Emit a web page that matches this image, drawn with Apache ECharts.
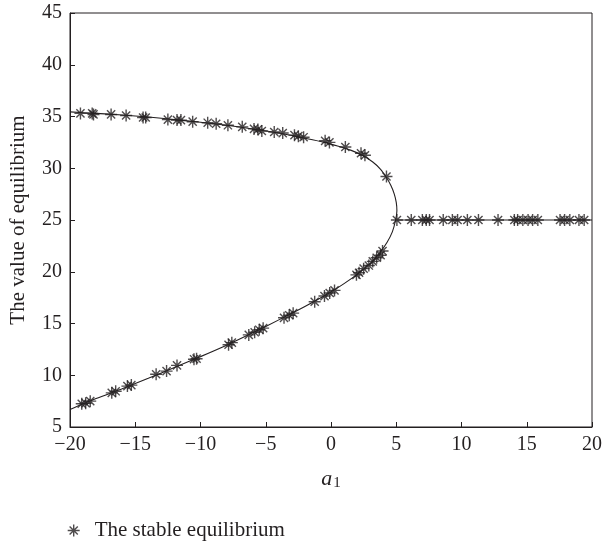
<!DOCTYPE html>
<html>
<head>
<meta charset="utf-8">
<script src="https://cdn.jsdelivr.net/npm/echarts@6/dist/echarts.min.js"></script>
<style>
  html, body { margin: 0; padding: 0; background: #fff; }
  #chart { width: 605px; height: 542px; }
</style>
</head>
<body>
<div id="chart"></div>
<script>
// equilibrium curve, traced from lower-left through the fold near a1 = 5 to upper-left
const curveA = [-20, -18, -16, -14, -12, -10, -8, -6, -4, -2, 0, 1, 2, 3, 3.8, 4.3, 4.7, 4.95, 5.05, 5.0, 4.85, 4.6, 4.25, 3.8, 3.2, 2.4, 1.5, 0.5, -0.5, -2, -4, -6, -8, -10, -12, -14, -16, -18, -20]
const curveV = [6.7, 7.75, 8.7, 9.7, 10.75, 11.8, 12.9, 14.1, 15.35, 16.65, 18.05, 18.85, 19.75, 20.8, 21.95, 22.85, 23.85, 25.0, 25.9, 26.7, 27.5, 28.3, 29.1, 29.9, 30.6, 31.25, 31.75, 32.15, 32.5, 32.9, 33.4, 33.8, 34.15, 34.45, 34.7, 34.95, 35.15, 35.3, 35.45]

// the flat branch after the fold
const flatA = [5, 20]
const flatV = [25, 25]

// stable equilibrium samples
const upperA = [-19.2, -18.3, -18.2, -16.85, -15.7, -14.4, -14.2, -12.5, -11.8, -11.5, -10.6, -9.45, -8.8, -7.9, -6.8, -5.9, -5.6, -5.3, -4.35, -3.7, -2.8, -2.5, -2.1, -0.45, -0.12, 1.1, 2.3, 2.6, 4.25]
const upperV = [35.3, 35.3, 35.2, 35.2, 35.1, 34.9, 34.9, 34.7, 34.65, 34.65, 34.5, 34.4, 34.3, 34.15, 34.0, 33.8, 33.75, 33.6, 33.5, 33.4, 33.2, 33.1, 33.0, 32.65, 32.5, 32.05, 31.45, 31.25, 29.2]

const lowerA = [-19.1, -18.8, -18.45, -16.8, -16.5, -15.6, -15.3, -13.4, -12.6, -11.8, -10.5, -10.3, -7.85, -7.6, -6.3, -5.85, -5.5, -5.2, -3.6, -3.2, -2.9, -1.25, -0.5, -0.1, 0.27, 1.95, 2.15, 2.5, 2.9, 3.2, 3.5, 3.8, 3.95]
const lowerV = [7.25, 7.3, 7.5, 8.3, 8.45, 8.95, 9.05, 10.1, 10.4, 10.95, 11.55, 11.6, 12.95, 13.15, 13.9, 14.15, 14.4, 14.55, 15.55, 15.8, 16.0, 17.1, 17.65, 17.95, 18.2, 19.7, 19.9, 20.3, 20.6, 21.0, 21.35, 21.6, 22.0]

const flatStarsA = [5.05, 6.15, 7.0, 7.3, 7.55, 8.6, 9.3, 9.7, 10.45, 11.3, 12.8, 14.05, 14.3, 14.7, 15.1, 15.45, 15.85, 17.55, 17.9, 18.3, 19.0, 19.4]

const xTicks = [-20, -15, -10, -5, 0, 5, 10, 15, 20]
const yTicks = [5, 10, 15, 20, 25, 30, 35, 40, 45]

const font = 'Liberation Serif'
const ink = '#231f20'
const asterisk = 'path://M0,5L10,5M5,0L5,10M1.6,1.6L8.4,8.4M1.6,8.4L8.4,1.6'

const zip = (a, v) => a.map((x, i) => [x, v[i]])

const starData = [
  ...zip(upperA, upperV),
  ...zip(lowerA, lowerV),
  ...flatStarsA.map(x => [x, 25])
]

const chart = echarts.init(document.getElementById('chart'))

const option = {
  animation: false,
  backgroundColor: '#fff',
  grid: {
    left: 67,
    right: 8,
    top: 13,
    bottom: 115,
    show: true,
    borderColor: ink,
    borderWidth: 1
  },
  legend: {
    data: ['The stable equilibrium'],
    left: 62,
    top: 515,
    icon: asterisk,
    itemWidth: 12,
    itemHeight: 12,
    itemGap: 10,
    textStyle: { fontFamily: font, fontSize: 21, color: ink, padding: [0, 0, 0, 10] },
    itemStyle: { color: ink, borderColor: ink, borderWidth: 1.4 }
  },
  xAxis: {
    type: 'value',
    min: xTicks[0],
    max: xTicks[xTicks.length - 1],
    interval: 5,
    name: '{i|a}{s|1}',
    nameLocation: 'middle',
    nameGap: 40,
    nameTextStyle: {
      rich: {
        i: { fontFamily: font, fontStyle: 'italic', fontSize: 22, color: ink },
        s: { fontFamily: font, fontSize: 15, color: ink, verticalAlign: 'bottom', padding: [9, 0, 0, 1] }
      }
    },
    axisLine: { onZero: false, lineStyle: { color: ink, width: 1 } },
    axisTick: { inside: true, length: 5, lineStyle: { color: ink } },
    axisLabel: {
      fontFamily: font,
      fontSize: 20,
      color: ink,
      margin: 8,
      formatter: v => String(v).replace('-', '\u2212')
    },
    splitLine: { show: false }
  },
  yAxis: {
    type: 'value',
    min: yTicks[0],
    max: yTicks[yTicks.length - 1],
    interval: 5,
    name: 'The value of equilibrium',
    nameLocation: 'middle',
    nameGap: 41,
    nameTextStyle: { fontFamily: font, fontSize: 21, color: ink },
    axisLine: { onZero: false, lineStyle: { color: ink, width: 1 } },
    axisTick: { inside: true, length: 5, lineStyle: { color: ink } },
    axisLabel: { fontFamily: font, fontSize: 20, color: ink, margin: 8 },
    splitLine: { show: false }
  },
  series: [
    {
      name: 'curve',
      type: 'line',
      data: zip(curveA, curveV),
      showSymbol: false,
      smooth: 0.25,
      lineStyle: { color: ink, width: 1.1 },
      silent: true
    },
    {
      name: 'flat',
      type: 'line',
      data: zip(flatA, flatV),
      showSymbol: false,
      lineStyle: { color: ink, width: 1.1 },
      silent: true
    },
    {
      name: 'The stable equilibrium',
      type: 'scatter',
      data: starData,
      symbol: asterisk,
      symbolSize: 12,
      itemStyle: { color: ink, borderColor: ink, borderWidth: 1.4 }
    }
  ]
}

chart.setOption(option)
</script>
</body>
</html>
